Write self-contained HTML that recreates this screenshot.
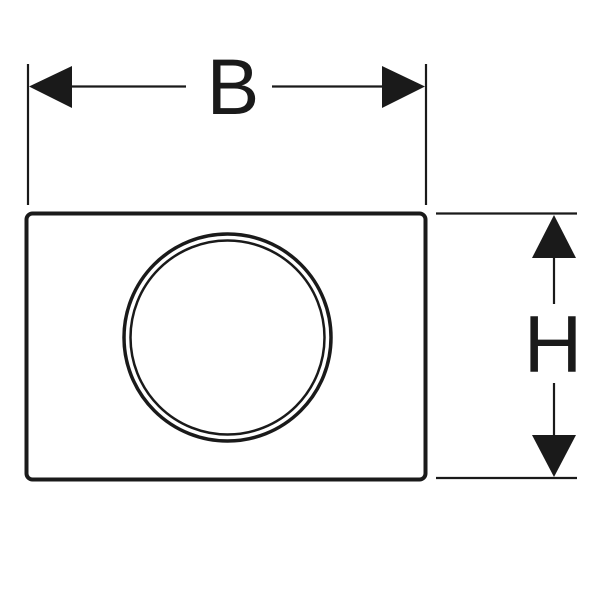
<!DOCTYPE html>
<html><head><style>html,body{margin:0;padding:0;background:#fff}svg{display:block}</style></head>
<body>
<svg width="603" height="603" viewBox="0 0 603 603" xmlns="http://www.w3.org/2000/svg">
<rect x="0" y="0" width="603" height="603" fill="#fff"/>
<g stroke="#1a1a1a" fill="none">
<rect x="26.5" y="213.5" width="399" height="266" rx="6" stroke-width="4"/>
<circle cx="227.5" cy="337.5" r="103.5" stroke-width="3.5"/>
<circle cx="227.5" cy="337.5" r="97" stroke-width="2.5"/>
<line x1="28" y1="64" x2="28" y2="205" stroke-width="2.2"/>
<line x1="426" y1="64" x2="426" y2="205" stroke-width="2.2"/>
<line x1="40" y1="86.5" x2="186" y2="86.5" stroke-width="2.2"/>
<line x1="272" y1="86.5" x2="415" y2="86.5" stroke-width="2.2"/>
<line x1="436" y1="213.5" x2="577" y2="213.5" stroke-width="2.2"/>
<line x1="436" y1="478" x2="577" y2="478" stroke-width="2.2"/>
<line x1="554" y1="230" x2="554" y2="304" stroke-width="2.2"/>
<line x1="554" y1="383" x2="554" y2="462" stroke-width="2.2"/>
</g>
<g fill="#1a1a1a">
<polygon points="29,86.5 72,66 72,108"/>
<polygon points="425,86.5 382,66 382,108"/>
<polygon points="554,215 532,258 576,258"/>
<polygon points="554,477 532,435 576,435"/>
</g>
<text x="233" y="114" text-anchor="middle" font-family="Liberation Sans, sans-serif" font-size="79" fill="#1a1a1a">B</text>
<text x="553" y="372" text-anchor="middle" font-family="Liberation Sans, sans-serif" font-size="81" fill="#1a1a1a">H</text>
</svg>
</body></html>
